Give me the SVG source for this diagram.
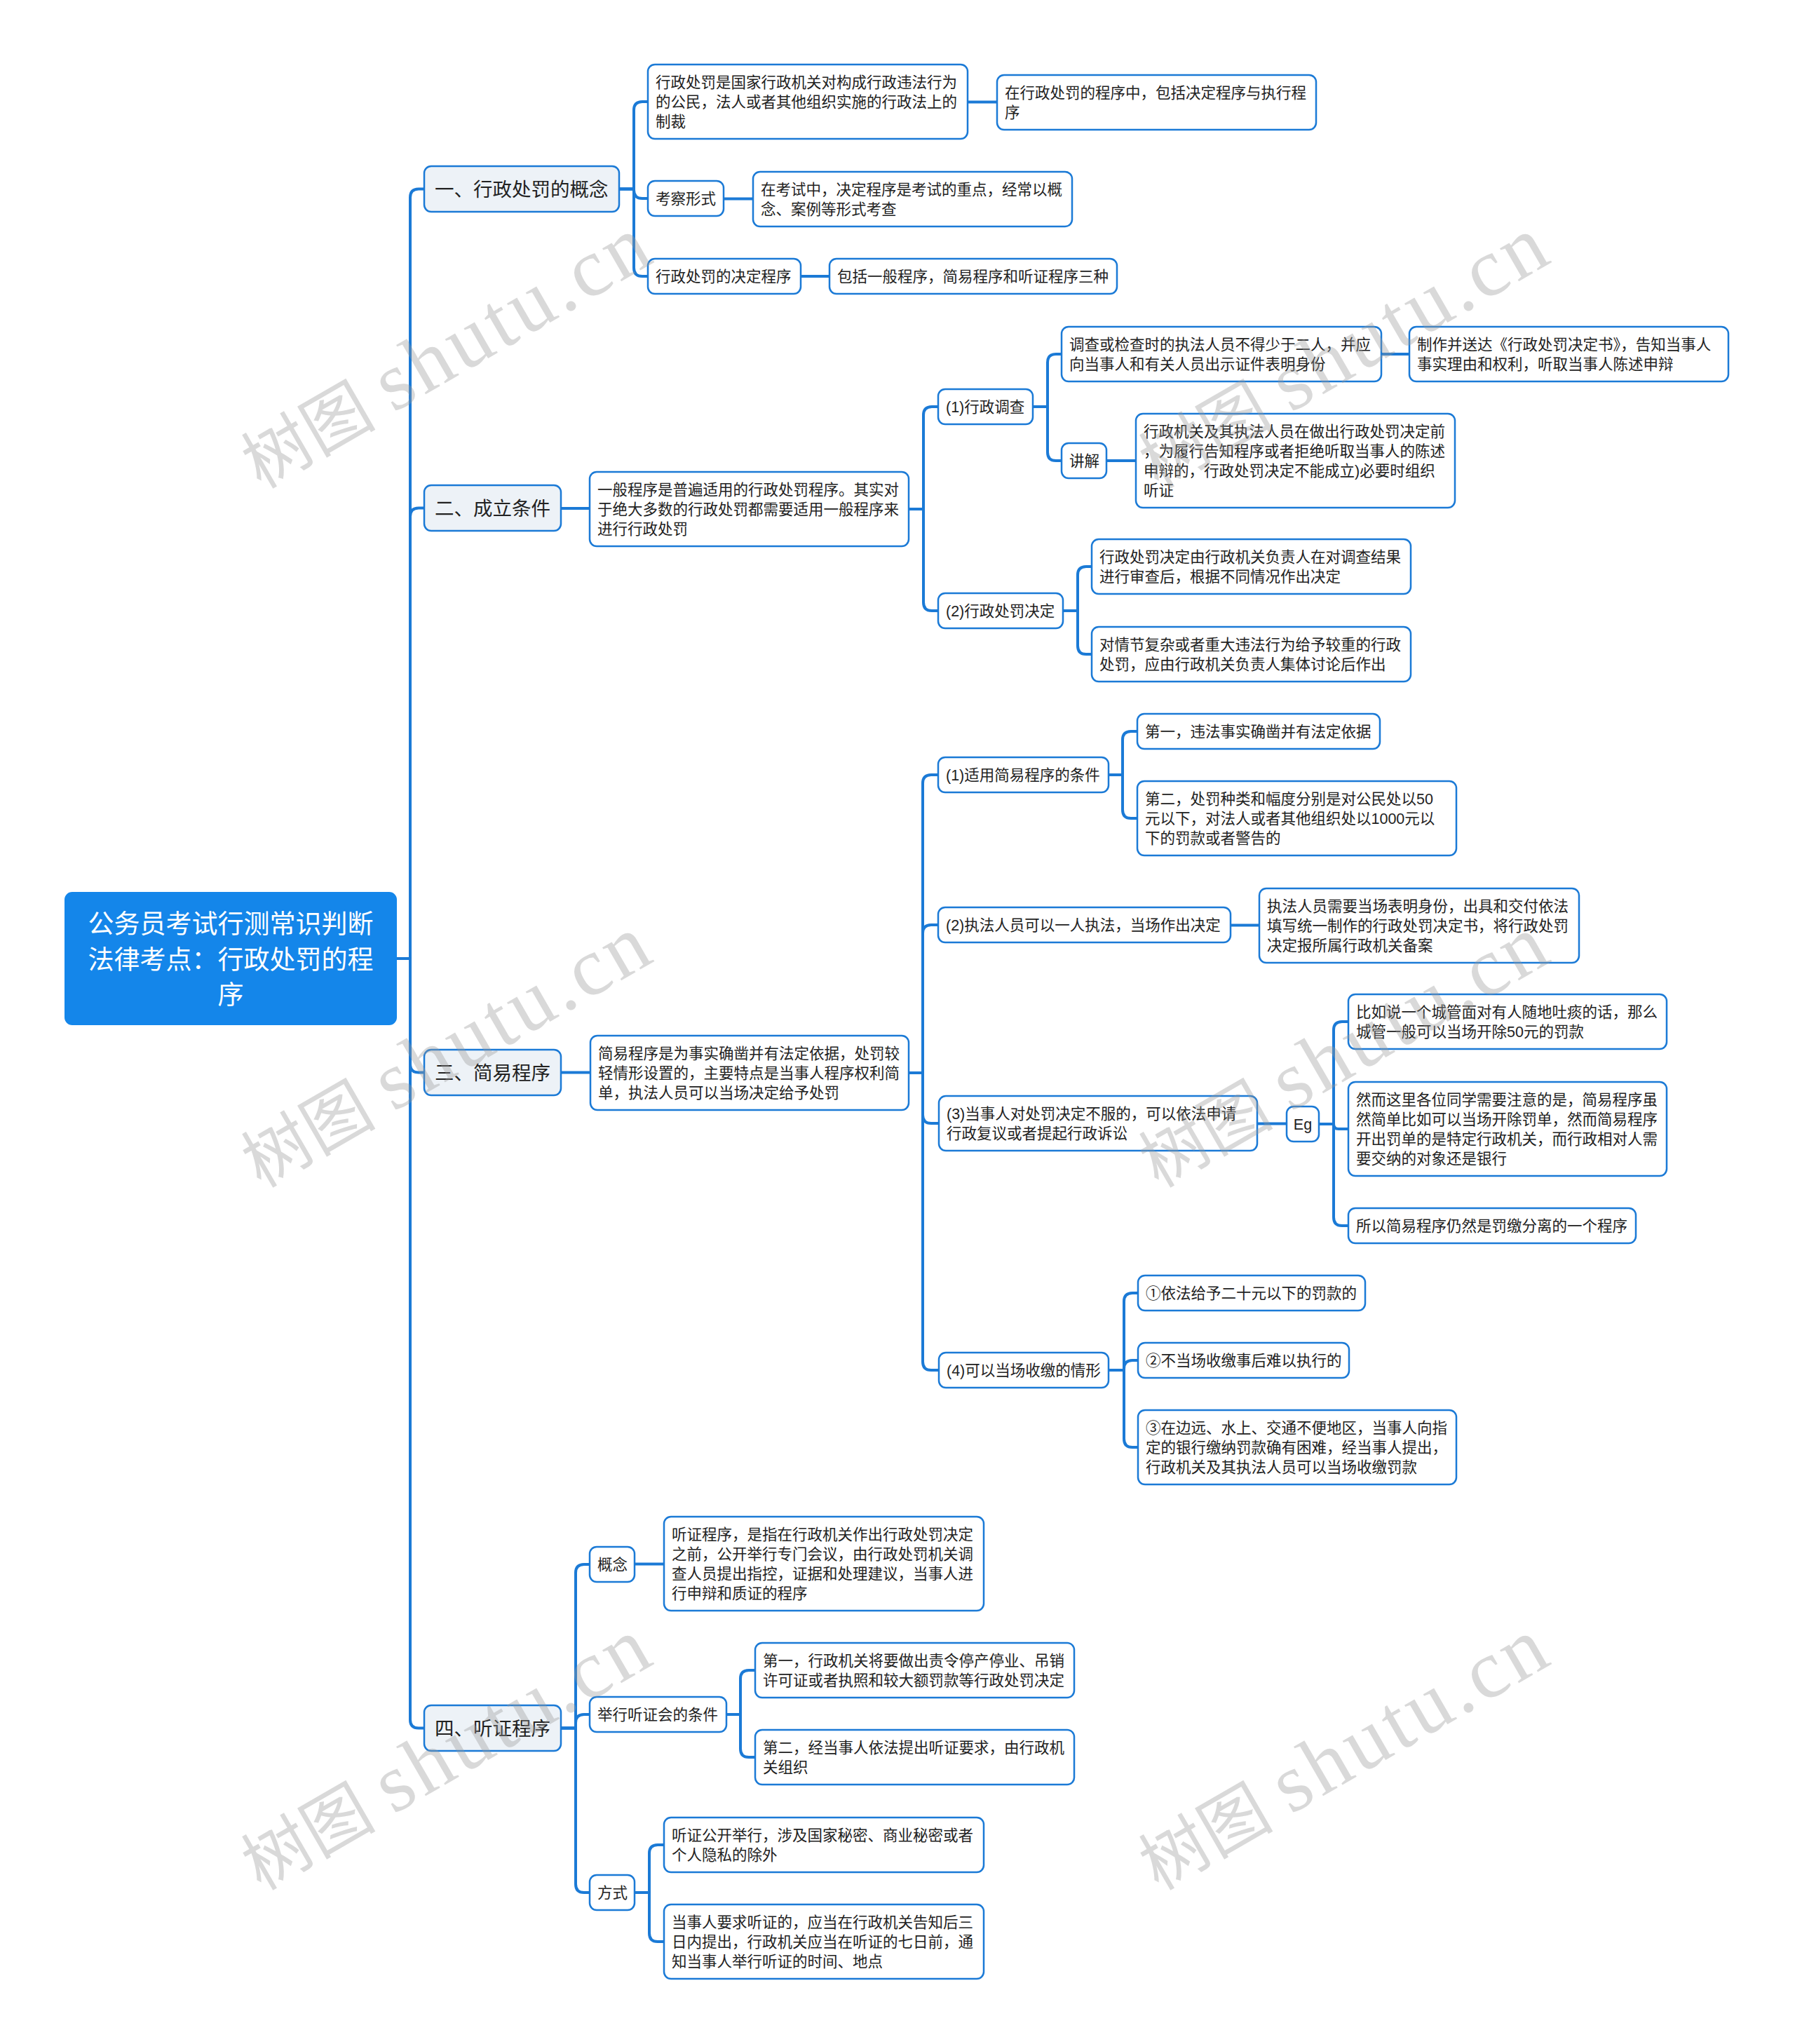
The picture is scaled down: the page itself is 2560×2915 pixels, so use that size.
<svg xmlns="http://www.w3.org/2000/svg" width="2560" height="2915" viewBox="0 0 2560 2915">
<style>
.conn path{fill:none;stroke:#1b7ad6;stroke-width:4;stroke-linecap:round;stroke-linejoin:round}
.n rect{fill:#ffffff;stroke:#1b7ad6;stroke-width:2.5}
.b rect{fill:#edf2f7;stroke:#1b7ad6;stroke-width:2.5}
.r rect{fill:#1486ea;stroke:#1486ea;stroke-width:2}
text{font-family:'Liberation Sans','Noto Sans CJK SC',sans-serif;fill:#222}
.t{font-size:21.5px}
.bt{font-size:27.5px}
.rt{font-size:37px;fill:#ffffff;text-anchor:middle}
.wm text{font-family:'Liberation Serif','Noto Sans CJK SC',serif;fill:#999999}
.wm{opacity:0.36}
.wc{font-size:96px}
.wl{font-size:118px}
</style>
<defs>
<g id="wmark" class="wm">
<text class="wc" x="0" y="0">树图</text>
<text class="wl" x="218" y="0" textLength="432" lengthAdjust="spacing">shutu.cn</text>
</g>
</defs>
<rect x="0" y="0" width="2560" height="2915" fill="#ffffff"/>
<g id="connectors" class="conn">
<path d="M565 1367H585V281.5Q585 269.5 597 269.5H605"/>
<path d="M565 1367H585V736.5Q585 724.5 597 724.5H605"/>
<path d="M565 1367H585V1517.5Q585 1529.5 597 1529.5H605"/>
<path d="M565 1367H585V2452.5Q585 2464.5 597 2464.5H605"/>
<path d="M883 269.5H904V157Q904 145 916 145H924"/>
<path d="M883 269.5H904V271Q904 283 916 283H924"/>
<path d="M883 269.5H904V382Q904 394 916 394H924"/>
<path d="M1380 145.5H1422"/>
<path d="M1032 283.5H1074"/>
<path d="M1142 394H1183"/>
<path d="M800 725H841"/>
<path d="M1296 726H1317V592Q1317 580 1329 580H1338"/>
<path d="M1296 726H1317V859Q1317 871 1329 871H1338"/>
<path d="M1473 580H1494V517Q1494 505 1506 505H1514"/>
<path d="M1473 580H1494V645Q1494 657 1506 657H1514"/>
<path d="M1970 505H2010"/>
<path d="M1578 657H1620"/>
<path d="M1516 871H1537V820Q1537 808 1549 808H1557"/>
<path d="M1516 871H1537V921Q1537 933 1549 933H1557"/>
<path d="M800 1529.5H842"/>
<path d="M1296 1530H1316V1117Q1316 1105 1328 1105H1338"/>
<path d="M1296 1530H1316V1331Q1316 1319 1328 1319H1338"/>
<path d="M1296 1530H1316V1590Q1316 1602 1328 1602H1339"/>
<path d="M1296 1530H1316V1942Q1316 1954 1328 1954H1339"/>
<path d="M1581 1105H1601V1055Q1601 1043 1613 1043H1622"/>
<path d="M1581 1105H1601V1155Q1601 1167 1613 1167H1622"/>
<path d="M1755 1319.5H1796"/>
<path d="M1793 1602.5H1835"/>
<path d="M1881 1603H1902V1469Q1902 1457 1914 1457H1923"/>
<path d="M1881 1603H1902Q1902 1610 1909 1610H1923"/>
<path d="M1881 1603H1902V1736Q1902 1748 1914 1748H1923"/>
<path d="M1581 1954H1603V1856Q1603 1844 1615 1844H1623"/>
<path d="M1581 1954H1603V1952Q1603 1940 1615 1940H1623"/>
<path d="M1581 1954H1603V2052Q1603 2064 1615 2064H1623"/>
<path d="M800 2464.5H821V2243Q821 2231 833 2231H841"/>
<path d="M800 2464.5H821V2457Q821 2445 833 2445H841"/>
<path d="M800 2464.5H821V2687Q821 2699 833 2699H841"/>
<path d="M905 2230.5H947"/>
<path d="M1036 2445H1056V2394Q1056 2382 1068 2382H1077"/>
<path d="M1036 2445H1056V2494Q1056 2506 1068 2506H1077"/>
<path d="M905 2699H926V2643Q926 2631 938 2631H947"/>
<path d="M905 2699H926V2757Q926 2769 938 2769H947"/>
</g>

<g id="root" class="r">
<rect x="93" y="1273" width="472" height="188" rx="10"/>
<text class="rt"><tspan x="329" y="1331">公务员考试行测常识判断</tspan><tspan x="329" y="1382">法律考点：行政处罚的程</tspan><tspan x="329" y="1432">序</tspan></text>
</g>

<g id="b1" class="b"><rect x="605" y="237" width="278" height="65" rx="10"/><text class="bt" x="620" y="280">一、行政处罚的概念</text></g>
<g id="b2" class="b"><rect x="605" y="692" width="195" height="65" rx="10"/><text class="bt" x="620" y="735">二、成立条件</text></g>
<g id="b3" class="b"><rect x="605" y="1497" width="195" height="65" rx="10"/><text class="bt" x="620" y="1540">三、简易程序</text></g>
<g id="b4" class="b"><rect x="605" y="2432" width="195" height="65" rx="10"/><text class="bt" x="620" y="2475">四、听证程序</text></g>

<g id="n1a" class="n"><rect x="924" y="92" width="456" height="106" rx="10"/><text class="t"><tspan x="935" y="125">行政处罚是国家行政机关对构成行政违法行为</tspan><tspan x="935" y="153">的公民，法人或者其他组织实施的行政法上的</tspan><tspan x="935" y="181">制裁</tspan></text></g>
<g id="n1a1" class="n"><rect x="1422" y="107" width="455" height="78" rx="10"/><text class="t"><tspan x="1433" y="140">在行政处罚的程序中，包括决定程序与执行程</tspan><tspan x="1433" y="168">序</tspan></text></g>
<g id="n1b" class="n"><rect x="924" y="258" width="108" height="50" rx="10"/><text class="t" x="935" y="291">考察形式</text></g>
<g id="n1b1" class="n"><rect x="1074" y="245" width="455" height="78" rx="10"/><text class="t"><tspan x="1085" y="278">在考试中，决定程序是考试的重点，经常以概</tspan><tspan x="1085" y="306">念、案例等形式考查</tspan></text></g>
<g id="n1c" class="n"><rect x="924" y="369" width="218" height="50" rx="10"/><text class="t" x="935" y="402">行政处罚的决定程序</text></g>
<g id="n1c1" class="n"><rect x="1183" y="369" width="410" height="50" rx="10"/><text class="t" x="1194" y="402">包括一般程序，简易程序和听证程序三种</text></g>

<g id="n2a" class="n"><rect x="841" y="673" width="455" height="106" rx="10"/><text class="t"><tspan x="852" y="706">一般程序是普遍适用的行政处罚程序。其实对</tspan><tspan x="852" y="734">于绝大多数的行政处罚都需要适用一般程序来</tspan><tspan x="852" y="762">进行行政处罚</tspan></text></g>
<g id="n2a1" class="n"><rect x="1338" y="555" width="135" height="50" rx="10"/><text class="t" x="1349" y="588">(1)行政调查</text></g>
<g id="n2c1" class="n"><rect x="1514" y="466" width="456" height="78" rx="10"/><text class="t"><tspan x="1525" y="499">调查或检查时的执法人员不得少于二人，并应</tspan><tspan x="1525" y="527">向当事人和有关人员出示证件表明身份</tspan></text></g>
<g id="n2c1a" class="n"><rect x="2010" y="466" width="455" height="78" rx="10"/><text class="t"><tspan x="2021" y="499">制作并送达《行政处罚决定书》，告知当事人</tspan><tspan x="2021" y="527">事实理由和权利，听取当事人陈述申辩</tspan></text></g>
<g id="n2c2" class="n"><rect x="1514" y="632" width="64" height="50" rx="10"/><text class="t" x="1525" y="665">讲解</text></g>
<g id="n2c2a" class="n"><rect x="1620" y="590" width="455" height="134" rx="10"/><text class="t"><tspan x="1631" y="623">行政机关及其执法人员在做出行政处罚决定前</tspan><tspan x="1631" y="651">，为履行告知程序或者拒绝听取当事人的陈述</tspan><tspan x="1631" y="679">申辩的，行政处罚决定不能成立)必要时组织</tspan><tspan x="1631" y="707">听证</tspan></text></g>
<g id="n2a2" class="n"><rect x="1338" y="846" width="178" height="50" rx="10"/><text class="t" x="1349" y="879">(2)行政处罚决定</text></g>
<g id="n2d1" class="n"><rect x="1557" y="769" width="455" height="78" rx="10"/><text class="t"><tspan x="1568" y="802">行政处罚决定由行政机关负责人在对调查结果</tspan><tspan x="1568" y="830">进行审查后，根据不同情况作出决定</tspan></text></g>
<g id="n2d2" class="n"><rect x="1557" y="894" width="455" height="78" rx="10"/><text class="t"><tspan x="1568" y="927">对情节复杂或者重大违法行为给予较重的行政</tspan><tspan x="1568" y="955">处罚，应由行政机关负责人集体讨论后作出</tspan></text></g>

<g id="n3a" class="n"><rect x="842" y="1477" width="454" height="106" rx="10"/><text class="t"><tspan x="853" y="1510">简易程序是为事实确凿并有法定依据，处罚较</tspan><tspan x="853" y="1538">轻情形设置的，主要特点是当事人程序权利简</tspan><tspan x="853" y="1566">单，执法人员可以当场决定给予处罚</tspan></text></g>
<g id="n3p1" class="n"><rect x="1338" y="1080" width="243" height="50" rx="10"/><text class="t" x="1349" y="1113">(1)适用简易程序的条件</text></g>
<g id="n3p1a" class="n"><rect x="1622" y="1018" width="346" height="50" rx="10"/><text class="t" x="1633" y="1051">第一，违法事实确凿并有法定依据</text></g>
<g id="n3p1b" class="n"><rect x="1622" y="1114" width="455" height="106" rx="10"/><text class="t"><tspan x="1633" y="1147">第二，处罚种类和幅度分别是对公民处以50</tspan><tspan x="1633" y="1175">元以下，对法人或者其他组织处以1000元以</tspan><tspan x="1633" y="1203">下的罚款或者警告的</tspan></text></g>
<g id="n3p2" class="n"><rect x="1338" y="1294" width="417" height="50" rx="10"/><text class="t" x="1349" y="1327">(2)执法人员可以一人执法，当场作出决定</text></g>
<g id="n3p2a" class="n"><rect x="1796" y="1267" width="456" height="106" rx="10"/><text class="t"><tspan x="1807" y="1300">执法人员需要当场表明身份，出具和交付依法</tspan><tspan x="1807" y="1328">填写统一制作的行政处罚决定书，将行政处罚</tspan><tspan x="1807" y="1356">决定报所属行政机关备案</tspan></text></g>
<g id="n3p3" class="n"><rect x="1339" y="1563" width="454" height="78" rx="10"/><text class="t"><tspan x="1350" y="1596">(3)当事人对处罚决定不服的，可以依法申请</tspan><tspan x="1350" y="1624">行政复议或者提起行政诉讼</tspan></text></g>
<g id="n3eg" class="n"><rect x="1835" y="1578" width="46" height="50" rx="10"/><text class="t" x="1858" y="1611" text-anchor="middle">Eg</text></g>
<g id="n3e1" class="n"><rect x="1923" y="1418" width="454" height="78" rx="10"/><text class="t"><tspan x="1934" y="1451">比如说一个城管面对有人随地吐痰的话，那么</tspan><tspan x="1934" y="1479">城管一般可以当场开除50元的罚款</tspan></text></g>
<g id="n3e2" class="n"><rect x="1923" y="1543" width="454" height="134" rx="10"/><text class="t"><tspan x="1934" y="1576">然而这里各位同学需要注意的是，简易程序虽</tspan><tspan x="1934" y="1604">然简单比如可以当场开除罚单，然而简易程序</tspan><tspan x="1934" y="1632">开出罚单的是特定行政机关，而行政相对人需</tspan><tspan x="1934" y="1660">要交纳的对象还是银行</tspan></text></g>
<g id="n3e3" class="n"><rect x="1923" y="1723" width="410" height="50" rx="10"/><text class="t" x="1934" y="1756">所以简易程序仍然是罚缴分离的一个程序</text></g>
<g id="n3p4" class="n"><rect x="1339" y="1929" width="242" height="50" rx="10"/><text class="t" x="1350" y="1962">(4)可以当场收缴的情形</text></g>
<g id="n3f1" class="n"><rect x="1623" y="1819" width="324" height="50" rx="10"/><text class="t" x="1634" y="1852">①依法给予二十元以下的罚款的</text></g>
<g id="n3f2" class="n"><rect x="1623" y="1915" width="301" height="50" rx="10"/><text class="t" x="1634" y="1948">②不当场收缴事后难以执行的</text></g>
<g id="n3f3" class="n"><rect x="1623" y="2011" width="454" height="106" rx="10"/><text class="t"><tspan x="1634" y="2044">③在边远、水上、交通不便地区，当事人向指</tspan><tspan x="1634" y="2072">定的银行缴纳罚款确有困难，经当事人提出，</tspan><tspan x="1634" y="2100">行政机关及其执法人员可以当场收缴罚款</tspan></text></g>

<g id="n4a" class="n"><rect x="841" y="2206" width="64" height="50" rx="10"/><text class="t" x="852" y="2239">概念</text></g>
<g id="n4a1" class="n"><rect x="947" y="2163" width="456" height="134" rx="10"/><text class="t"><tspan x="958" y="2196">听证程序，是指在行政机关作出行政处罚决定</tspan><tspan x="958" y="2224">之前，公开举行专门会议，由行政处罚机关调</tspan><tspan x="958" y="2252">查人员提出指控，证据和处理建议，当事人进</tspan><tspan x="958" y="2280">行申辩和质证的程序</tspan></text></g>
<g id="n4b" class="n"><rect x="841" y="2420" width="195" height="50" rx="10"/><text class="t" x="852" y="2453">举行听证会的条件</text></g>
<g id="n4b1" class="n"><rect x="1077" y="2343" width="455" height="78" rx="10"/><text class="t"><tspan x="1088" y="2376">第一，行政机关将要做出责令停产停业、吊销</tspan><tspan x="1088" y="2404">许可证或者执照和较大额罚款等行政处罚决定</tspan></text></g>
<g id="n4b2" class="n"><rect x="1077" y="2467" width="455" height="78" rx="10"/><text class="t"><tspan x="1088" y="2500">第二，经当事人依法提出听证要求，由行政机</tspan><tspan x="1088" y="2528">关组织</tspan></text></g>
<g id="n4c" class="n"><rect x="841" y="2674" width="64" height="50" rx="10"/><text class="t" x="852" y="2707">方式</text></g>
<g id="n4c1" class="n"><rect x="947" y="2592" width="456" height="78" rx="10"/><text class="t"><tspan x="958" y="2625">听证公开举行，涉及国家秘密、商业秘密或者</tspan><tspan x="958" y="2653">个人隐私的除外</tspan></text></g>
<g id="n4c2" class="n"><rect x="947" y="2716" width="456" height="106" rx="10"/><text class="t"><tspan x="958" y="2749">当事人要求听证的，应当在行政机关告知后三</tspan><tspan x="958" y="2777">日内提出，行政机关应当在听证的七日前，通</tspan><tspan x="958" y="2805">知当事人举行听证的时间、地点</tspan></text></g>

<g id="watermark">
<use href="#wmark" transform="translate(372 698) rotate(-30)"/>
<use href="#wmark" transform="translate(1652 698) rotate(-30)"/>
<use href="#wmark" transform="translate(372 1695) rotate(-30)"/>
<use href="#wmark" transform="translate(1652 1695) rotate(-30)"/>
<use href="#wmark" transform="translate(372 2697) rotate(-30)"/>
<use href="#wmark" transform="translate(1652 2697) rotate(-30)"/>
</g>
</svg>
